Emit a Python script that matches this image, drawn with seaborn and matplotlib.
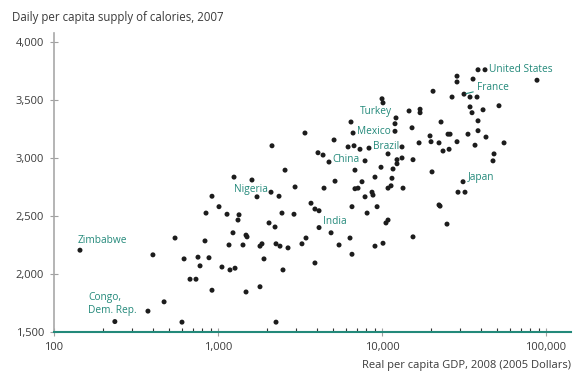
import numpy as np
import pandas as pd
import matplotlib
matplotlib.use("Agg")
import matplotlib.pyplot as plt
import matplotlib.ticker as mticker
import seaborn as sns

# Real GDP per capita (2005 dollars) and daily calorie supply per capita
gdp = [235, 401, 469, 547, 603, 621, 675, 734, 755, 777, 833, 881, 919, 845, 919,
       1014, 1135, 1343, 1324, 1057, 1183, 1270, 1167, 1234, 1420, 1482, 1503, 1482,
       1252, 1611, 2134, 1729, 1803, 1854, 1907, 1803, 2047, 2227, 2258, 2388, 2455,
       2355, 2563, 2490, 2258, 2672, 2906, 2950, 3250, 3440, 3390, 3690, 3900, 4130,
       3900, 4070, 4370, 4430, 5170, 5100, 5470, 4890, 6380, 6560, 6560, 8110, 9330,
       9060, 10140, 10570, 10880, 15450, 22260, 24900, 6840, 7140, 7550, 7880, 8690,
       8810, 9060, 9860, 10880, 11350, 11500, 11670, 12340, 13430, 6840, 7880, 12340,
       13240, 15450, 10880, 6210, 6750, 7340, 8330, 16820, 19900, 22260, 23550, 25640,
       19620, 25260, 6660, 6470, 12000, 15240, 22900, 14620, 17060, 17060, 10000,
       10140, 20470, 26730, 34400, 37960, 28660, 28660, 35890, 38490, 88100, 51660,
       34400, 35380, 41300, 38490, 26000, 33430, 38490, 43050, 28660, 36900, 55460,
       48190, 47500, 20180, 29060, 32060, 22590]
calories = [1590, 2165, 1760, 2310, 1585, 2130, 1955, 1955, 2145, 2070, 2285, 2140, 1860,
            2525, 2670, 2580, 2515, 2510, 2465, 2060, 2035, 2050, 2250, 2355, 2250, 2335,
            2320, 1845, 2835, 2810, 3105, 2665, 2240, 2260, 2130, 1890, 2440, 2405, 2260,
            2240, 2525, 2670, 2895, 2035, 1585, 2225, 2515, 2750, 2260, 2310, 3215, 2610,
            2560, 2545, 2095, 3045, 3025, 2740, 2800, 3155, 2250, 2355, 2310, 2580, 2170,
            2525, 2580, 2240, 2265, 2440, 2465, 2320, 2595, 2430, 2735, 2740, 2795, 2665,
            2705, 2680, 2835, 2920, 2740, 2760, 2825, 2905, 2950, 2740, 2895, 2975, 2985,
            3000, 2985, 3035, 3095, 3105, 3075, 3085, 3130, 3140, 3130, 3060, 3075, 3190,
            3205, 3215, 3310, 3295, 3260, 3310, 3405, 3420, 3390, 3510, 3475, 3575, 3525,
            3525, 3525, 3705, 3655, 3680, 3760, 3670, 3450, 3440, 3390, 3415, 3320, 3205,
            3205, 3235, 3180, 3140, 3110, 3130, 3035, 2975, 2880, 2705, 2705, 2585]

# Named countries
label_names = ["United States", "France", "Turkey", "Mexico", "Brazil", "China",
               "Nigeria", "India", "Japan", "Zimbabwe", "Congo,\nDem. Rep."]
label_gdp = [42460, 31620, 12170, 12000, 13240, 4750, 2105, 4130, 31190, 144, 374]
label_cal = [3760, 3550, 3345, 3230, 3095, 2965, 2705, 2400, 2795, 2205, 1680]

x_ticks = [100, 1000, 10000, 100000]
x_tick_labels = ["100", "1,000", "10,000", "100,000"]
y_ticks = [1500, 2000, 2500, 3000, 3500, 4000]
y_tick_labels = ["1,500", "2,000", "2,500", "3,000", "3,500", "4,000"]

sns.set_theme(style="white")
plt.rcParams["font.family"] = ["Open Sans", "DejaVu Sans"]

TEAL = "#23897a"
TEXT = "#3a3a3a"

df = pd.DataFrame({"gdp": gdp + label_gdp, "calories": calories + label_cal})

fig = plt.figure(figsize=(5.73, 3.74), dpi=100)
ax = fig.add_axes([54 / 573, 1 - 332 / 374, 517 / 573, 299 / 374])

sns.scatterplot(data=df, x="gdp", y="calories", ax=ax, s=13, color="#1c1c1c",
                edgecolor="none", linewidth=0, legend=False)

ax.set_xscale("log")
ax.set_xlim(100, 142000)
ax.set_ylim(1500, 4077)

ax.set_xticks(x_ticks)
ax.set_xticklabels(x_tick_labels)
ax.xaxis.set_minor_locator(mticker.LogLocator(base=10, subs=np.arange(2, 10)))
ax.xaxis.set_minor_formatter(mticker.NullFormatter())
ax.set_yticks(y_ticks)
ax.set_yticklabels(y_tick_labels)

ax.tick_params(axis="x", which="major", direction="inout", length=6, width=0.8,
               color="#a0a0a0", labelsize=8, labelcolor=TEXT, pad=4)
ax.tick_params(axis="x", which="minor", direction="in", length=3, width=0.8,
               color="#333333")
ax.tick_params(axis="y", which="major", direction="inout", length=6, width=0.8,
               color="#a0a0a0", labelsize=8, labelcolor=TEXT, pad=4)
ax.tick_params(bottom=True, left=True, which="both")

for side in ("top", "right"):
    ax.spines[side].set_visible(False)
ax.spines["left"].set_color("#a8a8a8")
ax.spines["left"].set_linewidth(1.2)
ax.spines["bottom"].set_color(TEAL)
ax.spines["bottom"].set_linewidth(1.5)

ax.set_xlabel("Real per capita GDP, 2008 (2005 Dollars)", loc="right",
              fontsize=8, color=TEXT, labelpad=5)
ax.set_ylabel("")
fig.text(12 / 573, 1 - 18 / 374, "Daily per capita supply of calories, 2007",
         fontsize=8.3, color=TEXT, ha="left", va="center")

# Country labels: (dx, dy) offsets in points, horizontal alignment
offsets = {
    "United States": (3, 0, "left"),
    "France": (9, 5, "left"),
    "Turkey": (-3, 4.5, "right"),
    "Mexico": (-3, 0, "right"),
    "Brazil": (-2, 0, "right"),
    "China": (2.5, 1.5, "left"),
    "Nigeria": (-2.5, 2, "right"),
    "India": (2.5, 4.5, "left"),
    "Japan": (3.5, 3, "left"),
    "Zimbabwe": (-2, 7, "left"),
    "Congo,\nDem. Rep.": (-8, 5, "right"),
}
for name, gx, cy in zip(label_names, label_gdp, label_cal):
    dx, dy, ha = offsets[name]
    kw = {}
    if name == "France":
        kw["arrowprops"] = dict(arrowstyle="-", color=TEAL, lw=0.8,
                                shrinkA=0, shrinkB=1.5)
    ax.annotate(name, xy=(gx, cy), xytext=(dx, dy), textcoords="offset points",
                ha=ha, va="center", multialignment="left", fontsize=7.3,
                color=TEAL, linespacing=1.3, **kw)

fig.savefig("out.png", dpi=100, facecolor="white")
